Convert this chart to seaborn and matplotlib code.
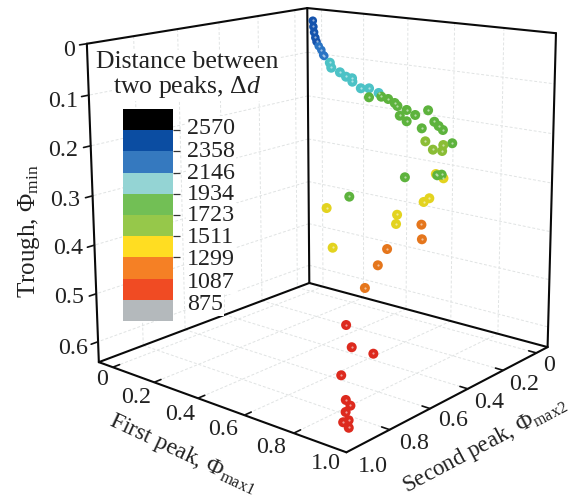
import numpy as np
import pandas as pd
import seaborn as sns
import matplotlib.pyplot as plt
from matplotlib.colors import ListedColormap

first_peak = [.099,.138,.162,.190,.211,.238,.261,.282,.292,.332,.350,.388,.422,.439,.451,.492,.514,.552,
              .541,.572,.598,.625,.637,.670,.669,.706,.728,.696,.770,.787,.806,.752,.855,.785,.822,.839,.847,
              .870,.897,.804,.702,.879,.885,.666,.894,.888,.844,.854,.736,.915,.935,.865,.865,.862,
              .861,.897,.951,.900,.932,.946,.942,.954,.946,.961]
second_peak = [.094,.136,.160,.186,.204,.224,.237,.252,.258,.276,.290,.290,.299,.288,.301,.307,.291,.288,
               .325,.299,.296,.296,.297,.291,.326,.293,.253,.325,.276,.276,.279,.319,.296,.344,.354,.322,.339,
               .403,.400,.475,.623,.408,.393,.689,.469,.490,.566,.584,.744,.537,.561,.642,.687,.745,
               .832,.850,.816,.902,.920,.916,.933,.934,.949,.942]
trough = [.009,.017,.026,.034,.040,.046,.052,.060,.061,.071,.079,.086,.092,.095,.100,.110,.110,.117,
          .123,.122,.125,.131,.136,.142,.150,.149,.142,.159,.159,.166,.172,.169,.192,.189,.201,.194,.203,
          .238,.244,.242,.271,.239,.239,.288,.274,.279,.298,.312,.348,.313,.335,.350,.374,.408,
          .463,.496,.506,.538,.575,.584,.593,.606,.608,.617]
distance = [2450,2430,2410,2400,2380,2300,2280,2250,2230,2120,2100,2080,2060,2040,2020,2000,1980,1960,
            1900,1930,1900,1880,1870,1860,1850,1850,1840,1830,1820,1800,1780,1770,1750,1700,1680,1660,1640,
            1400,1350,1820,1800,1780,1760,1450,1440,1430,1420,1400,1380,1250,1220,1200,1180,1150,
            1060,1050,1040,1030,1020,1010,1000,990,980,970]

edges = [875, 1087, 1299, 1511, 1723, 1934, 2146, 2358, 2570]
band_colors = ['#b4b9bc', '#f04b23', '#f58025', '#ffdd22', '#96c84a', '#72bf55', '#94d4d4', '#3579bf', '#0b4da2', '#000000']
sphere_colors = ['#b4b9bc', '#dd2a1e', '#e5761c', '#e3d31f', '#8abd35', '#5db33d', '#4cc2c6', '#2a74c4', '#1553ad', '#000000']
bar_labels = ['2570', '2358', '2146', '1934', '1723', '1511', '1299', '1087', '875']
peak_ticks = [0, 0.2, 0.4, 0.6, 0.8, 1.0]
trough_ticks = [0, 0.1, 0.2, 0.3, 0.4, 0.5, 0.6]

# camera fitted to the box corners of the picture
P = np.array([[166.81319, -221.91827, 22.33958, 309.11537],
              [19.74657, 27.8569, 453.01435, 11.54599],
              [-0.12578, -0.13925, 0.06188, 1.0]])
lo, hi, zb = -0.07, 1.0, 0.643


def project(x, y, z):
    h = P @ np.array([np.asarray(x, float), np.asarray(y, float), np.asarray(z, float), np.ones_like(np.asarray(x, float))])
    return h[0] / h[2], h[1] / h[2]


def line3d(a, b, **kw):
    u, v = project(*np.array([a, b]).T)
    ax.plot(u, v, **kw)


sns.set_theme(style='white')
plt.rcParams['font.family'] = ['Liberation Serif', 'DejaVu Serif']
plt.rcParams['mathtext.fontset'] = 'custom'
plt.rcParams['mathtext.rm'] = 'Liberation Serif'
plt.rcParams['mathtext.it'] = 'Liberation Serif:italic'

fig = plt.figure(figsize=(5.79, 4.98), dpi=100)
ax = fig.add_axes([0, 0, 1, 1])
ax.set_xlim(0, 579)
ax.set_ylim(498, 0)
ax.axis('off')

grid = dict(color='#e0e3e3', lw=0.7, ls=(0, (3, 2)), zorder=1)
for v in peak_ticks:
    line3d((v, lo, zb), (v, hi, zb), **grid)
    line3d((lo, v, zb), (hi, v, zb), **grid)
    line3d((lo, v, 0), (lo, v, zb), **grid)
    line3d((v, lo, 0), (v, lo, zb), **grid)
for v in trough_ticks[1:]:
    line3d((lo, lo, v), (lo, hi, v), **grid)
    line3d((lo, lo, v), (hi, lo, v), **grid)

frame = dict(color='#0a0a0a', lw=1.5, zorder=3, solid_capstyle='round')
for a, b in [((lo, lo, 0), (lo, lo, zb)), ((lo, hi, 0), (lo, hi, zb)), ((hi, lo, 0), (hi, lo, zb)),
             ((lo, lo, 0), (lo, hi, 0)), ((lo, lo, 0), (hi, lo, 0)),
             ((lo, lo, zb), (lo, hi, zb)), ((lo, lo, zb), (hi, lo, zb)),
             ((lo, hi, zb), (hi, hi, zb)), ((hi, lo, zb), (hi, hi, zb))]:
    line3d(a, b, **frame)

tick = dict(color='#111111', lw=1.2, zorder=3)
for v in peak_ticks[:-1]:
    line3d((v, hi, zb), (v, hi - 0.03, zb), **tick)
    line3d((hi, v, zb), (hi - 0.03, v, zb), **tick)
for v in trough_ticks:
    line3d((lo, hi, v), (lo, hi + 0.03, v), **tick)

df = pd.DataFrame({'first': first_peak, 'second': second_peak, 'trough': trough, 'distance': distance})
df['u'], df['v'] = project(df['first'].values, df['second'].values, df['trough'].values)
df['band'] = np.digitize(df['distance'], edges)
bands = sorted(df['band'].unique())
sns.scatterplot(data=df, x='u', y='v', hue='band', size='band', ax=ax, legend=False,
                palette={b: sphere_colors[b] for b in bands},
                sizes={b: (38 if b >= 7 else 52) for b in bands},
                linewidth=0, zorder=5)
sns.scatterplot(x=df['u'], y=df['v'] - 0.3, color='white', s=2.5, alpha=0.55, linewidth=0, ax=ax, legend=False, zorder=6)
ax.set_xlabel('')
ax.set_ylabel('')

fs = 17.3
txt = dict(color='#222222', ha='center', va='center', zorder=8)
for s, x, y in zip(trough_ticks, [69, 63, 63, 65, 68, 69, 73], [50, 101, 150, 200, 248, 297, 348]):
    ax.text(x, y, str(s), fontsize=fs, **txt)
for s, x, y in zip(peak_ticks, [102, 136, 180, 223, 271, 326], [379, 397, 414, 429, 447, 463]):
    ax.text(x, y, str(s), fontsize=fs, **txt)
for s, x, y in zip(peak_ticks, [549, 524, 489, 453, 414, 373], [365, 384, 402, 420, 443, 466]):
    ax.text(x, y, str(s), fontsize=fs, **txt)

ax.text(29, 231, r'Trough, $\mathit{\Phi}_{\mathrm{min}}$', rotation=90, fontsize=18, **txt)
ax.text(183, 454, r'First peak, $\mathit{\Phi}_{\mathrm{max1}}$', rotation=-25, fontsize=17, rotation_mode='anchor', **txt)
ax.text(485, 445, r'Second peak, $\mathit{\Phi}_{\mathrm{max2}}$', rotation=28, fontsize=16.6, rotation_mode='anchor', **txt)

white = dict(facecolor='white', edgecolor='none', pad=1)
ax.text(187, 62, 'Distance between', fontsize=18.5, bbox=white, **txt)
ax.text(187, 87, r'two peaks, $\Delta\mathit{d}$', fontsize=18.5, bbox=white, **txt)
for s, y in zip(bar_labels, [128, 151, 173, 194, 215, 237, 259, 282, 304]):
    ax.text(187, y, s, fontsize=fs, color='#222222', ha='left', va='center', bbox=white, zorder=8)

cax = fig.add_axes([123 / 579, 1 - 321 / 498, 50 / 579, 212 / 498])
sns.heatmap(np.arange(len(band_colors))[::-1].reshape(-1, 1), cmap=ListedColormap(band_colors),
            cbar=False, xticklabels=False, yticklabels=False, ax=cax)
cax.yaxis.tick_right()
cax.set_yticks(range(1, 8))
cax.set_yticklabels([])
cax.tick_params(axis='y', right=True, length=5, width=0.9, color='#333333')

fig.savefig('out.png', dpi=100)
